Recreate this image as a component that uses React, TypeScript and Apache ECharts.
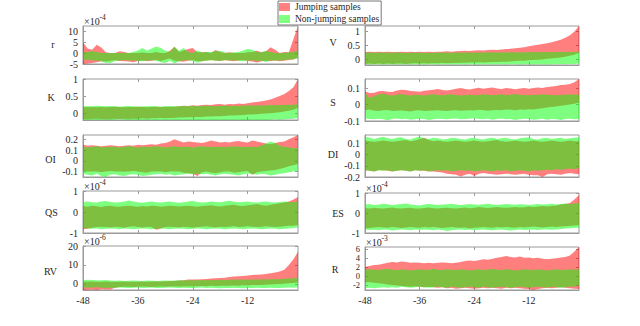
import { useEffect, useRef } from 'react';
import * as echarts from 'echarts';

const FONT = '"Liberation Serif", "Times New Roman", serif';
const TEXT = '#262626';
const AXIS = '#9a9a9a';

// ---- x positions (months before event) and ticks ----
const xValues = [
  -48, -47, -46, -45, -44, -43, -42, -41, -40, -39, -38, -37,
  -36, -35, -34, -33, -32, -31, -30, -29, -28, -27, -26, -25,
  -24, -23, -22, -21, -20, -19, -18, -17, -16, -15, -14, -13,
  -12, -11, -10, -9, -8, -7, -6, -5, -4, -3, -2, -1,
];
const xTicks = [-48, -36, -24, -12];

const legendNames = ['Jumping samples', 'Non-jumping samples'];

// ---- r (x10^-4) ----
const r_jumpHigh = [
  4.9, 2.0, 1.5, 3.8, 2.5, 0.3, 0, 0, 0.8, 0.5, 0, 0,
  0, 0.2, 0, 0, 0.5, 0, 0, 1.0, 2.8, 0.5, 1.2, 1.8,
  2.3, 0.3, 0.3, 0.5, 0, 1.4, 0.5, 0, 0.3, 0, 0, 0,
  0.3, 0.5, 1.0, 0.3, 0.8, 2.6, 1.5, 0, 0.5, 0.3, 6.4, 12.3,
];
const r_jumpLow = [
  -5.0, -4.8, -4.5, -4.2, -3.8, -3.9, -3.5, -3.3, -3.6, -3.8, -3.9, -4.2,
  -3.6, -3.4, -3.7, -3.5, -3.2, -3.6, -3.0, -2.5, -3.5, -3.8, -4.0, -3.5,
  -3.3, -3.6, -3.8, -3.4, -3.2, -3.5, -3.6, -3.3, -3.5, -3.8, -3.4, -3.2,
  -3.6, -3.9, -4.3, -3.8, -3.5, -3.6, -3.4, -3.8, -3.5, -3.2, -3.0, -2.0,
];
const r_nonHigh = [
  0.3, 0.5, 0.8, 0.5, 0, 0, 0, 0, 0, 0, 0, 0.5,
  1.2, 2.3, 1.0, 2.0, 3.0, 2.3, 1.0, 0.5, 2.8, 1.0, 2.3, 0.5,
  0, 1.1, 0.3, 0.5, 0.5, 0.8, 1.0, 0.2, 0, 0.3, 0.5, 1.2,
  1.8, 1.5, 0.5, 0.3, 1.0, 0.5, 0, 0, 0, 0.3, 0.5, 1.2,
];
const r_nonLow = [
  -3.2, -3.0, -3.3, -3.5, -3.8, -4.6, -4.5, -3.6, -3.4, -3.2, -3.5, -3.3,
  -3.6, -3.8, -3.4, -3.3, -3.5, -4.2, -4.6, -3.5, -4.8, -3.7, -3.4, -3.2,
  -3.6, -4.4, -3.8, -3.5, -3.3, -3.4, -3.6, -3.2, -3.4, -3.3, -3.5, -3.8,
  -3.4, -3.3, -3.6, -3.4, -4.2, -3.3, -3.5, -3.4, -3.2, -3.0, -2.8, -2.5,
];
const r_ticks = [-5, 0, 5, 10];

// ---- K ----
const K_jumpHigh = [
  0.18, 0.17, 0.18, 0.17, 0.18, 0.17, 0.18, 0.19, 0.18, 0.17, 0.18, 0.18,
  0.19, 0.18, 0.17, 0.18, 0.19, 0.18, 0.19, 0.18, 0.19, 0.2, 0.22, 0.21,
  0.23, 0.22, 0.24, 0.25, 0.24, 0.26, 0.27, 0.25, 0.27, 0.26, 0.28, 0.27,
  0.29, 0.31, 0.33, 0.35, 0.37, 0.4, 0.45, 0.5, 0.56, 0.65, 0.76, 1.0,
];
const K_jumpLow = [
  -0.17, -0.18, -0.17, -0.16, -0.17, -0.18, -0.17, -0.16, -0.17, -0.16, -0.17, -0.16,
  -0.16, -0.15, -0.16, -0.15, -0.15, -0.14, -0.15, -0.14, -0.14, -0.13, -0.13, -0.12,
  -0.12, -0.11, -0.11, -0.1, -0.1, -0.09, -0.09, -0.08, -0.07, -0.07, -0.06, -0.05,
  -0.04, -0.04, -0.03, -0.02, -0.01, 0.0, 0.01, 0.03, 0.05, 0.07, 0.1, 0.16,
];
const K_nonHigh = [
  0.2, 0.21, 0.2, 0.22, 0.21, 0.2, 0.21, 0.2, 0.19, 0.2, 0.21, 0.2,
  0.19, 0.2, 0.2, 0.21, 0.2, 0.19, 0.2, 0.21, 0.2, 0.2, 0.21, 0.2,
  0.21, 0.2, 0.21, 0.22, 0.21, 0.2, 0.21, 0.22, 0.21, 0.22, 0.21, 0.22,
  0.23, 0.22, 0.23, 0.22, 0.23, 0.24, 0.23, 0.24, 0.24, 0.25, 0.25, 0.26,
];
const K_nonLow = [
  -0.19, -0.2, -0.19, -0.2, -0.19, -0.19, -0.2, -0.19, -0.18, -0.19, -0.2, -0.19,
  -0.2, -0.19, -0.2, -0.19, -0.2, -0.19, -0.2, -0.19, -0.2, -0.2, -0.19, -0.2,
  -0.19, -0.2, -0.2, -0.19, -0.2, -0.2, -0.19, -0.2, -0.19, -0.2, -0.19, -0.2,
  -0.2, -0.19, -0.2, -0.19, -0.2, -0.19, -0.18, -0.19, -0.18, -0.17, -0.16, -0.14,
];
const K_ticks = [0, 0.5, 1];

// ---- OI ----
const OI_jumpHigh = [
  0.15, 0.14, 0.145, 0.14, 0.135, 0.14, 0.145, 0.14, 0.135, 0.14, 0.145, 0.14,
  0.15, 0.145, 0.15, 0.155, 0.15, 0.16, 0.165, 0.18, 0.2, 0.185, 0.17, 0.18,
  0.175, 0.17, 0.165, 0.175, 0.19, 0.18, 0.17, 0.175, 0.17, 0.18, 0.185, 0.175,
  0.17, 0.19, 0.18, 0.17, 0.16, 0.155, 0.165, 0.175, 0.18, 0.2, 0.22, 0.24,
];
const OI_jumpLow = [
  -0.095, -0.1, -0.098, -0.1, -0.105, -0.1, -0.095, -0.1, -0.098, -0.102, -0.1, -0.095,
  -0.1, -0.105, -0.11, -0.1, -0.098, -0.1, -0.105, -0.1, -0.098, -0.1, -0.11, -0.115,
  -0.12, -0.14, -0.105, -0.1, -0.11, -0.115, -0.105, -0.1, -0.098, -0.11, -0.105, -0.1,
  -0.095, -0.13, -0.105, -0.1, -0.095, -0.09, -0.085, -0.075, -0.065, -0.05, -0.04, -0.03,
];
const OI_nonHigh = [
  0.13, 0.125, 0.13, 0.135, 0.125, 0.13, 0.128, 0.132, 0.125, 0.13, 0.135, 0.13,
  0.125, 0.13, 0.128, 0.132, 0.135, 0.13, 0.125, 0.13, 0.135, 0.128, 0.13, 0.132,
  0.125, 0.13, 0.135, 0.13, 0.128, 0.13, 0.132, 0.126, 0.13, 0.135, 0.13, 0.128,
  0.132, 0.13, 0.128, 0.14, 0.16, 0.18, 0.165, 0.14, 0.13, 0.125, 0.12, 0.118,
];
const OI_nonLow = [
  -0.12, -0.13, -0.135, -0.12, -0.14, -0.15, -0.13, -0.125, -0.135, -0.14, -0.13, -0.125,
  -0.13, -0.14, -0.135, -0.13, -0.125, -0.12, -0.13, -0.125, -0.135, -0.13, -0.125, -0.12,
  -0.125, -0.12, -0.125, -0.12, -0.13, -0.135, -0.125, -0.12, -0.125, -0.13, -0.135, -0.125,
  -0.12, -0.12, -0.13, -0.12, -0.125, -0.135, -0.13, -0.12, -0.115, -0.105, -0.1, -0.095,
];
const OI_ticks = [-0.1, 0, 0.1, 0.2];

// ---- QS (x10^-4) ----
const QS_jumpHigh = [
  0.28, 0.25, 0.3, 0.27, 0.24, 0.28, 0.3, 0.26, 0.25, 0.28, 0.3, 0.27,
  0.25, 0.28, 0.26, 0.3, 0.28, 0.25, 0.27, 0.3, 0.28, 0.26, 0.28, 0.3,
  0.27, 0.25, 0.28, 0.3, 0.32, 0.28, 0.26, 0.3, 0.32, 0.35, 0.3, 0.28,
  0.32, 0.35, 0.38, 0.33, 0.3, 0.35, 0.38, 0.42, 0.45, 0.5, 0.6, 0.72,
];
const QS_jumpLow = [
  -0.82, -0.8, -0.75, -0.72, -0.7, -0.72, -0.74, -0.7, -0.72, -0.75, -0.7, -0.68,
  -0.72, -0.74, -0.7, -0.72, -0.84, -0.78, -0.72, -0.7, -0.72, -0.74, -0.7, -0.72,
  -0.75, -0.72, -0.7, -0.68, -0.72, -0.74, -0.7, -0.72, -0.7, -0.68, -0.72, -0.7,
  -0.68, -0.7, -0.72, -0.7, -0.68, -0.7, -0.72, -0.7, -0.68, -0.66, -0.65, -0.62,
];
const QS_nonHigh = [
  0.48, 0.5, 0.46, 0.45, 0.5, 0.52, 0.48, 0.45, 0.47, 0.5, 0.55, 0.5,
  0.46, 0.44, 0.48, 0.5, 0.47, 0.45, 0.48, 0.5, 0.46, 0.44, 0.47, 0.5,
  0.52, 0.48, 0.45, 0.47, 0.5, 0.48, 0.46, 0.5, 0.53, 0.49, 0.46, 0.48,
  0.5, 0.47, 0.45, 0.48, 0.5, 0.47, 0.45, 0.48, 0.5, 0.46, 0.48, 0.5,
];
const QS_nonLow = [
  -0.76, -0.78, -0.8, -0.78, -0.82, -0.8, -0.78, -0.8, -0.82, -0.78, -0.8, -0.82,
  -0.8, -0.78, -0.8, -0.82, -0.8, -0.78, -0.8, -0.82, -0.8, -0.78, -0.8, -0.82,
  -0.8, -0.78, -0.8, -0.82, -0.8, -0.78, -0.8, -0.82, -0.8, -0.78, -0.8, -0.82,
  -0.8, -0.78, -0.8, -0.82, -0.8, -0.78, -0.8, -0.82, -0.8, -0.78, -0.76, -0.74,
];
const QS_ticks = [-1, 0, 1];

// ---- RV (x10^-6) ----
const RV_jumpHigh = [
  1.3, 1.2, 1.3, 1.1, 1.2, 1.3, 1.2, 1.1, 1.2, 1.3, 1.2, 1.1,
  1.2, 1.3, 1.2, 1.3, 1.4, 1.3, 1.4, 1.5, 1.6, 1.8, 2.0, 2.3,
  2.4, 2.3, 2.5, 2.6, 2.8, 3.0, 3.1, 3.3, 3.6, 3.9, 4.0, 4.2,
  4.4, 4.7, 4.9, 5.0, 5.2, 5.6, 6.0, 6.6, 7.5, 10.0, 13.0, 17.0,
];
const RV_jumpLow = [
  -3.2, -3.1, -3.0, -3.2, -2.8, -3.0, -2.9, -2.0, -1.6, -1.5, -1.5, -1.6,
  -1.5, -1.4, -1.5, -1.6, -1.5, -1.4, -1.5, -1.4, -1.3, -1.4, -1.3, -1.2,
  -1.3, -1.2, -1.1, -1.2, -1.0, -1.1, -1.0, -0.9, -1.0, -0.8, -0.9, -0.7,
  -0.8, -0.6, -0.5, -0.6, -0.4, -0.3, -0.2, 0.0, 0.1, 0.3, 0.5, 0.8,
];
const RV_nonHigh = [
  2.0, 2.2, 2.1, 1.9, 2.0, 2.1, 1.8, 1.7, 1.8, 1.6, 1.7, 1.8,
  1.7, 1.6, 1.8, 1.7, 1.6, 1.7, 1.8, 1.7, 1.8, 1.9, 1.8, 2.0,
  1.9, 2.0, 2.1, 2.0, 2.1, 2.0, 2.2, 2.1, 2.2, 2.3, 2.2, 2.3,
  2.2, 2.4, 2.3, 2.4, 2.5, 2.4, 2.6, 2.5, 2.7, 2.8, 3.0, 3.2,
];
const RV_nonLow = [
  -1.8, -2.0, -1.9, -1.8, -2.0, -2.1, -2.0, -2.2, -1.9, -2.0, -2.2, -2.0,
  -1.9, -2.1, -2.0, -1.9, -2.1, -2.2, -2.0, -1.9, -2.0, -2.1, -2.0, -2.2,
  -2.1, -2.0, -1.9, -2.1, -2.0, -2.2, -2.3, -2.1, -2.2, -2.0, -2.1, -2.3,
  -2.2, -2.1, -2.0, -2.2, -2.1, -2.0, -2.2, -2.1, -2.0, -1.9, -2.0, -1.8,
];
const RV_ticks = [0, 10, 20];

// ---- V ----
const V_jumpHigh = [
  0.27, 0.28, 0.27, 0.28, 0.27, 0.28, 0.27, 0.27, 0.28, 0.27, 0.28, 0.27,
  0.28, 0.27, 0.28, 0.27, 0.28, 0.28, 0.29, 0.28, 0.29, 0.3, 0.31, 0.3,
  0.32, 0.33, 0.32, 0.34, 0.35, 0.34, 0.36, 0.37, 0.38, 0.4, 0.42, 0.44,
  0.47, 0.5, 0.53, 0.55, 0.58, 0.62, 0.66, 0.71, 0.78, 0.87, 1.0, 1.2,
];
const V_jumpLow = [
  -0.16, -0.15, -0.16, -0.15, -0.16, -0.15, -0.16, -0.15, -0.15, -0.16, -0.15, -0.14,
  -0.15, -0.14, -0.15, -0.14, -0.14, -0.13, -0.14, -0.13, -0.13, -0.12, -0.12, -0.11,
  -0.11, -0.1, -0.11, -0.1, -0.09, -0.09, -0.08, -0.08, -0.07, -0.06, -0.05, -0.05,
  -0.03, -0.02, -0.01, 0.0, 0.02, 0.03, 0.05, 0.07, 0.1, 0.13, 0.17, 0.24,
];
const V_nonHigh = [
  0.24, 0.25, 0.24, 0.24, 0.25, 0.24, 0.24, 0.25, 0.24, 0.23, 0.24, 0.25,
  0.24, 0.24, 0.23, 0.24, 0.24, 0.25, 0.24, 0.24, 0.25, 0.24, 0.25, 0.25,
  0.24, 0.25, 0.25, 0.26, 0.25, 0.25, 0.26, 0.25, 0.26, 0.26, 0.25, 0.26,
  0.26, 0.27, 0.26, 0.27, 0.27, 0.26, 0.27, 0.27, 0.28, 0.27, 0.28, 0.28,
];
const V_nonLow = [
  -0.17, -0.18, -0.17, -0.17, -0.18, -0.17, -0.17, -0.18, -0.17, -0.17, -0.18, -0.17,
  -0.17, -0.18, -0.17, -0.17, -0.18, -0.17, -0.17, -0.18, -0.17, -0.17, -0.18, -0.17,
  -0.17, -0.18, -0.17, -0.17, -0.18, -0.17, -0.17, -0.18, -0.17, -0.17, -0.18, -0.17,
  -0.17, -0.18, -0.17, -0.17, -0.18, -0.17, -0.17, -0.16, -0.17, -0.16, -0.16, -0.15,
];
const V_ticks = [0, 0.5, 1];

// ---- S ----
const S_jumpHigh = [
  0.079, 0.07, 0.072, 0.08, 0.082, 0.078, 0.076, 0.085, 0.09, 0.088, 0.082, 0.08,
  0.078, 0.083, 0.086, 0.09, 0.095, 0.088, 0.085, 0.09, 0.096, 0.1, 0.094, 0.092,
  0.098, 0.102, 0.096, 0.1, 0.104, 0.098, 0.095, 0.1, 0.097, 0.093, 0.098, 0.1,
  0.096, 0.1, 0.104, 0.1, 0.106, 0.11, 0.112, 0.118, 0.12, 0.125, 0.135, 0.155,
];
const S_jumpLow = [
  -0.035, -0.03, -0.038, -0.04, -0.035, -0.033, -0.04, -0.038, -0.036, -0.04, -0.042, -0.036,
  -0.035, -0.04, -0.038, -0.036, -0.034, -0.038, -0.04, -0.036, -0.035, -0.038, -0.036, -0.034,
  -0.036, -0.032, -0.035, -0.038, -0.034, -0.033, -0.035, -0.03, -0.032, -0.034, -0.03, -0.032,
  -0.028, -0.03, -0.025, -0.022, -0.018, -0.015, -0.012, -0.008, -0.004, 0.0, 0.005, 0.012,
];
const S_nonHigh = [
  0.073, 0.04, 0.05, 0.062, 0.065, 0.058, 0.055, 0.06, 0.064, 0.058, 0.055, 0.06,
  0.058, 0.055, 0.06, 0.062, 0.058, 0.056, 0.06, 0.063, 0.058, 0.055, 0.058, 0.06,
  0.056, 0.058, 0.062, 0.06, 0.057, 0.06, 0.062, 0.058, 0.06, 0.064, 0.06, 0.058,
  0.056, 0.06, 0.058, 0.062, 0.06, 0.058, 0.056, 0.058, 0.06, 0.062, 0.06, 0.06,
];
const S_nonLow = [
  -0.085, -0.088, -0.09, -0.086, -0.09, -0.095, -0.088, -0.085, -0.09, -0.087, -0.092, -0.09,
  -0.086, -0.088, -0.094, -0.09, -0.086, -0.088, -0.09, -0.087, -0.085, -0.09, -0.088, -0.086,
  -0.084, -0.088, -0.09, -0.086, -0.092, -0.088, -0.085, -0.09, -0.088, -0.094, -0.09, -0.086,
  -0.088, -0.092, -0.09, -0.087, -0.093, -0.088, -0.09, -0.094, -0.088, -0.086, -0.09, -0.088,
];
const S_ticks = [-0.1, 0, 0.1];

// ---- DI ----
const DI_jumpHigh = [
  0.125, 0.12, 0.115, 0.12, 0.125, 0.12, 0.115, 0.12, 0.125, 0.13, 0.12, 0.125,
  0.14, 0.15, 0.13, 0.12, 0.125, 0.12, 0.115, 0.12, 0.125, 0.12, 0.115, 0.12,
  0.125, 0.12, 0.115, 0.12, 0.125, 0.13, 0.12, 0.115, 0.12, 0.125, 0.12, 0.115,
  0.12, 0.125, 0.12, 0.115, 0.12, 0.125, 0.12, 0.115, 0.12, 0.125, 0.12, 0.12,
];
const DI_jumpLow = [
  -0.14, -0.145, -0.15, -0.14, -0.14, -0.145, -0.15, -0.145, -0.14, -0.145, -0.15, -0.14,
  -0.145, -0.145, -0.15, -0.15, -0.155, -0.16, -0.17, -0.175, -0.18, -0.195, -0.18, -0.17,
  -0.19, -0.17, -0.165, -0.17, -0.175, -0.18, -0.175, -0.17, -0.175, -0.18, -0.175, -0.17,
  -0.18, -0.185, -0.185, -0.2, -0.175, -0.17, -0.175, -0.18, -0.17, -0.165, -0.17, -0.175,
];
const DI_nonHigh = [
  0.16, 0.15, 0.14, 0.15, 0.16, 0.145, 0.14, 0.15, 0.155, 0.14, 0.135, 0.15,
  0.16, 0.145, 0.14, 0.15, 0.145, 0.135, 0.14, 0.15, 0.145, 0.14, 0.135, 0.145,
  0.15, 0.14, 0.135, 0.145, 0.15, 0.14, 0.145, 0.15, 0.14, 0.135, 0.145, 0.15,
  0.155, 0.14, 0.135, 0.145, 0.15, 0.14, 0.145, 0.15, 0.14, 0.145, 0.15, 0.155,
];
const DI_nonLow = [
  -0.14, -0.145, -0.15, -0.14, -0.145, -0.14, -0.15, -0.145, -0.14, -0.145, -0.15, -0.14,
  -0.145, -0.14, -0.15, -0.145, -0.14, -0.145, -0.14, -0.15, -0.145, -0.14, -0.145, -0.14,
  -0.15, -0.145, -0.14, -0.145, -0.15, -0.14, -0.145, -0.14, -0.15, -0.145, -0.14, -0.145,
  -0.15, -0.14, -0.145, -0.14, -0.135, -0.14, -0.13, -0.135, -0.13, -0.125, -0.13, -0.12,
];
const DI_ticks = [-0.2, -0.1, 0, 0.1];

// ---- ES (x10^-4) ----
const ES_jumpHigh = [
  0.25, 0.22, 0.26, 0.24, 0.22, 0.25, 0.27, 0.24, 0.22, 0.25, 0.26, 0.23,
  0.22, 0.25, 0.27, 0.24, 0.22, 0.25, 0.26, 0.24, 0.22, 0.25, 0.27, 0.24,
  0.26, 0.3, 0.27, 0.25, 0.27, 0.3, 0.28, 0.26, 0.28, 0.3, 0.27, 0.29,
  0.32, 0.3, 0.33, 0.35, 0.32, 0.35, 0.38, 0.42, 0.45, 0.5, 0.68, 0.9,
];
const ES_jumpLow = [
  -0.78, -0.75, -0.72, -0.7, -0.72, -0.74, -0.7, -0.72, -0.75, -0.72, -0.7, -0.72,
  -0.74, -0.7, -0.72, -0.7, -0.73, -0.75, -0.72, -0.7, -0.72, -0.74, -0.72, -0.78,
  -0.74, -0.72, -0.7, -0.72, -0.74, -0.7, -0.72, -0.7, -0.72, -0.74, -0.7, -0.72,
  -0.7, -0.68, -0.7, -0.72, -0.7, -0.68, -0.7, -0.68, -0.66, -0.65, -0.62, -0.6,
];
const ES_nonHigh = [
  0.42, 0.45, 0.4, 0.43, 0.46, 0.44, 0.4, 0.42, 0.45, 0.47, 0.43, 0.4,
  0.38, 0.42, 0.45, 0.43, 0.4, 0.42, 0.44, 0.46, 0.43, 0.4, 0.42, 0.45,
  0.43, 0.41, 0.44, 0.46, 0.43, 0.4, 0.42, 0.45, 0.43, 0.41, 0.44, 0.42,
  0.4, 0.43, 0.45, 0.42, 0.44, 0.46, 0.43, 0.45, 0.47, 0.45, 0.48, 0.5,
];
const ES_nonLow = [
  -0.82, -0.85, -0.84, -0.86, -0.82, -0.84, -0.88, -0.85, -0.82, -0.84, -0.86, -0.83,
  -0.85, -0.82, -0.84, -0.86, -0.83, -0.85, -0.9, -0.86, -0.84, -0.82, -0.85, -0.83,
  -0.86, -0.84, -0.82, -0.85, -0.86, -0.84, -0.82, -0.85, -0.88, -0.85, -0.83, -0.85,
  -0.84, -0.82, -0.85, -0.83, -0.82, -0.84, -0.82, -0.8, -0.78, -0.76, -0.75, -0.72,
];
const ES_ticks = [-1, 0, 1];

// ---- R (x10^-3) ----
const R_jumpHigh = [
  2.1, 2.3, 2.5, 2.6, 2.8, 3.0, 3.2, 3.1, 3.3, 3.2, 3.0, 3.1,
  3.0, 2.9, 3.0, 2.9, 3.0, 3.1, 3.0, 2.9, 3.0, 3.2, 3.4, 3.5,
  3.4, 3.6, 3.8, 3.7, 3.9, 4.1, 4.3, 4.5, 4.3, 4.2, 4.4, 4.1,
  4.2, 4.0, 4.1, 3.9, 3.8, 3.9, 4.0, 4.2, 4.3, 4.6, 5.5, 6.5,
];
const R_jumpLow = [
  -1.3, -1.3, -1.4, -1.5, -1.6, -1.8, -1.9, -2.0, -2.1, -2.2, -2.3, -2.2,
  -2.3, -2.4, -2.3, -2.4, -2.5, -2.4, -2.6, -2.5, -2.7, -2.6, -2.5, -2.6,
  -2.7, -2.6, -2.5, -2.6, -2.5, -2.6, -2.7, -2.5, -2.6, -2.5, -2.6, -2.7,
  -2.8, -3.0, -2.8, -2.6, -2.5, -2.6, -2.5, -2.4, -2.5, -2.6, -2.7, -2.8,
];
const R_nonHigh = [
  1.5, 1.6, 1.5, 1.4, 1.6, 1.7, 1.5, 1.4, 1.6, 1.5, 1.3, 1.5,
  1.6, 1.4, 1.5, 1.7, 1.5, 1.4, 1.6, 1.5, 1.4, 1.6, 1.5, 1.3,
  1.5, 1.6, 1.4, 1.5, 1.7, 1.5, 1.4, 1.6, 1.5, 1.3, 1.4, 1.6,
  1.5, 1.4, 1.6, 1.5, 1.3, 1.5, 1.6, 1.4, 1.5, 1.6, 1.5, 1.6,
];
const R_nonLow = [
  -2.6, -2.5, -2.6, -2.5, -2.4, -2.5, -2.4, -2.5, -2.3, -2.4, -2.5, -2.4,
  -2.3, -2.4, -2.5, -2.4, -2.3, -2.4, -2.5, -2.3, -2.4, -2.5, -2.4, -2.3,
  -2.4, -2.5, -2.3, -2.4, -2.5, -2.4, -2.3, -2.4, -2.5, -2.4, -2.3, -2.4,
  -2.5, -2.4, -2.3, -2.4, -2.5, -2.3, -2.4, -2.5, -2.4, -2.3, -2.2, -2.0,
];
const R_ticks = [-2, 0, 2, 4, 6];

// ---- panel definitions (data + axis ranges) ----
const PANELS = [
  { label: 'r', exp: '-4', jh: r_jumpHigh, jl: r_jumpLow, nh: r_nonHigh, nl: r_nonLow, min: -5, max: 12.3, ticks: r_ticks },
  { label: 'K', exp: '', jh: K_jumpHigh, jl: K_jumpLow, nh: K_nonHigh, nl: K_nonLow, min: -0.2, max: 1, ticks: K_ticks },
  { label: 'OI', exp: '', jh: OI_jumpHigh, jl: OI_jumpLow, nh: OI_nonHigh, nl: OI_nonLow, min: -0.15, max: 0.24, ticks: OI_ticks },
  { label: 'QS', exp: '-4', jh: QS_jumpHigh, jl: QS_jumpLow, nh: QS_nonHigh, nl: QS_nonLow, min: -1, max: 1, ticks: QS_ticks },
  { label: 'RV', exp: '-6', jh: RV_jumpHigh, jl: RV_jumpLow, nh: RV_nonHigh, nl: RV_nonLow, min: -3.2, max: 20, ticks: RV_ticks },
  { label: 'V', exp: '', jh: V_jumpHigh, jl: V_jumpLow, nh: V_nonHigh, nl: V_nonLow, min: -0.2, max: 1.2, ticks: V_ticks },
  { label: 'S', exp: '', jh: S_jumpHigh, jl: S_jumpLow, nh: S_nonHigh, nl: S_nonLow, min: -0.1, max: 0.155, ticks: S_ticks },
  { label: 'DI', exp: '', jh: DI_jumpHigh, jl: DI_jumpLow, nh: DI_nonHigh, nl: DI_nonLow, min: -0.2, max: 0.175, ticks: DI_ticks },
  { label: 'ES', exp: '-4', jh: ES_jumpHigh, jl: ES_jumpLow, nh: ES_nonHigh, nl: ES_nonLow, min: -1, max: 1, ticks: ES_ticks },
  { label: 'R', exp: '-3', jh: R_jumpHigh, jl: R_jumpLow, nh: R_nonHigh, nl: R_nonLow, min: -3, max: 6.5, ticks: R_ticks },
];

// ---- layout (pixels) ----
const LAYOUT = [
  { left: 83, top: 26, width: 215, height: 38, nameX: 53, nameY: 44, bottom: false, tickFont: 10 },
  { left: 83, top: 79, width: 215, height: 41, nameX: 51, nameY: 97, bottom: false, tickFont: 10 },
  { left: 83, top: 135, width: 215, height: 42, nameX: 50.5, nameY: 159, bottom: false, tickFont: 10 },
  { left: 83, top: 191, width: 215, height: 42, nameX: 51.5, nameY: 212, bottom: false, tickFont: 10 },
  { left: 83, top: 246, width: 215, height: 44, nameX: 50.5, nameY: 271.5, bottom: true, tickFont: 10 },
  { left: 365, top: 26, width: 214, height: 39, nameX: 333, nameY: 42.5, bottom: false, tickFont: 10 },
  { left: 365, top: 79, width: 214, height: 42, nameX: 333, nameY: 102.5, bottom: false, tickFont: 10 },
  { left: 365, top: 135, width: 214, height: 42, nameX: 333, nameY: 154.5, bottom: false, tickFont: 10 },
  { left: 365, top: 193, width: 214, height: 40, nameX: 338, nameY: 213, bottom: false, tickFont: 10 },
  { left: 365, top: 247, width: 214, height: 43, nameX: 335, nameY: 269.5, bottom: true, tickFont: 8.5 },
];

function bandRenderer(fill: string) {
  return (params: any, api: any) => {
    if (params.dataIndexInside !== 0) return null;
    const n = params.dataInsideLength;
    const upper: number[][] = [];
    const lower: number[][] = [];
    for (let k = 0; k < n; k++) {
      const x = api.value(0, k);
      lower.push(api.coord([x, api.value(1, k)]));
      upper.push(api.coord([x, api.value(2, k)]));
    }
    return {
      type: 'polygon',
      silent: true,
      shape: { points: upper.concat(lower.reverse()) },
      style: { fill, stroke: 'none' },
    };
  };
}

function buildOption() {
  const grid: any[] = [];
  const xAxis: any[] = [];
  const yAxis: any[] = [];
  const series: any[] = [];
  const graphic: any[] = [];
  const tickStyle = { color: AXIS, width: 1 };

  PANELS.forEach((p, i) => {
    const L = LAYOUT[i];
    const labelStyle = { fontFamily: FONT, fontSize: 10, color: TEXT };
    grid.push({
      left: L.left, top: L.top, width: L.width, height: L.height,
      show: true, borderColor: AXIS, borderWidth: 1, backgroundColor: 'transparent',
    });
    xAxis.push({
      gridIndex: i, type: 'value', min: -48, max: -1, position: 'bottom',
      axisLine: { show: true, onZero: false, lineStyle: tickStyle },
      axisTick: { show: true, inside: true, length: 3, customValues: xTicks, lineStyle: tickStyle },
      axisLabel: { show: L.bottom, customValues: xTicks, margin: 5, ...labelStyle },
      splitLine: { show: false },
    });
    xAxis.push({
      gridIndex: i, type: 'value', min: -48, max: -1, position: 'top',
      axisLine: { show: false, onZero: false },
      axisTick: { show: true, inside: true, length: 3, customValues: xTicks, lineStyle: tickStyle },
      axisLabel: { show: false },
      splitLine: { show: false },
    });
    yAxis.push({
      gridIndex: i, type: 'value', min: p.min, max: p.max, position: 'left',
      axisLine: { show: true, onZero: false, lineStyle: tickStyle },
      axisTick: { show: true, inside: true, length: 3, customValues: p.ticks, lineStyle: tickStyle },
      axisLabel: { show: true, customValues: p.ticks, margin: 5, ...labelStyle, fontSize: L.tickFont },
      splitLine: { show: false },
    });
    yAxis.push({
      gridIndex: i, type: 'value', min: p.min, max: p.max, position: 'right',
      axisLine: { show: false, onZero: false },
      axisTick: { show: true, inside: true, length: 3, customValues: p.ticks, lineStyle: tickStyle },
      axisLabel: { show: false },
      splitLine: { show: false },
    });

    const triples = (lo: number[], hi: number[]) => xValues.map((x, k) => [x, lo[k], hi[k]]);
    const base = {
      type: 'custom', coordinateSystem: 'cartesian2d',
      xAxisIndex: 2 * i, yAxisIndex: 2 * i,
      encode: { x: 0, y: [1, 2] }, clip: true, silent: true, animation: false,
    };
    series.push({
      ...base, name: legendNames[0], data: triples(p.jl, p.jh),
      itemStyle: { color: '#ff8080' },
      renderItem: bandRenderer('rgba(255,0,0,0.5)'),
    });
    series.push({
      ...base, name: legendNames[1], data: triples(p.nl, p.nh),
      itemStyle: { color: '#80ff80' },
      renderItem: bandRenderer('rgba(0,255,0,0.5)'),
    });

    graphic.push({
      type: 'text', x: L.nameX, y: L.nameY, silent: true,
      style: {
        text: p.label, fill: TEXT, fontFamily: FONT, fontSize: 10,
        align: 'center', verticalAlign: 'middle',
      },
    });
    if (p.exp) {
      graphic.push({
        type: 'text', x: L.left + 1, y: L.top - 5, silent: true,
        style: {
          text: '×10', fill: TEXT, fontFamily: FONT, fontSize: 10,
          align: 'left', verticalAlign: 'middle',
        },
      });
      graphic.push({
        type: 'text', x: L.left + 16.5, y: L.top - 9, silent: true,
        style: {
          text: p.exp, fill: TEXT, fontFamily: FONT, fontSize: 7.5,
          align: 'left', verticalAlign: 'middle',
        },
      });
    }
  });

  return {
    animation: false,
    backgroundColor: '#ffffff',
    grid, xAxis, yAxis, series, graphic,
    legend: {
      data: [
        { name: legendNames[0], icon: 'rect', itemStyle: { color: '#ff8080' } },
        { name: legendNames[1], icon: 'rect', itemStyle: { color: '#80ff80' } },
      ],
      orient: 'vertical', left: 278, top: 1,
      itemWidth: 11, itemHeight: 8, itemGap: 2,
      padding: [1, 2, 1, 1],
      borderColor: '#777', borderWidth: 1, backgroundColor: '#ffffff',
      selectedMode: false,
      textStyle: { fontFamily: FONT, fontSize: 9.5, color: TEXT },
    },
  };
}

export default function App() {
  const ref = useRef<HTMLDivElement>(null);
  useEffect(() => {
    if (!ref.current) return;
    const chart = echarts.init(ref.current, undefined, { renderer: 'svg' });
    chart.setOption(buildOption() as any);
    return () => chart.dispose();
  }, []);
  return (
    <div
      ref={ref}
      style={{ position: 'absolute', left: 0, top: 0, width: 640, height: 326, background: '#fff' }}
    />
  );
}
